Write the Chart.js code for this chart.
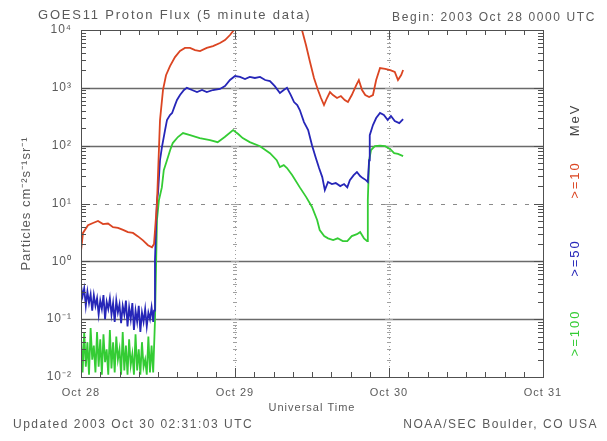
<!DOCTYPE html>
<html><head><meta charset="utf-8">
<script src="https://cdn.jsdelivr.net/npm/chart.js@4/dist/chart.umd.min.js"></script>
<style>html,body{margin:0;padding:0;background:#fff;}</style>
</head><body>
<canvas id="c" width="607" height="441"></canvas>
<script>
// ---- text ----
const titleText = 'GOES11 Proton Flux (5 minute data)';
const beginText = 'Begin: 2003 Oct 28 0000 UTC';
const updatedText = 'Updated 2003 Oct 30 02:31:03 UTC';
const creditText = 'NOAA/SEC Boulder, CO USA';
const xTitle = 'Universal Time';
const yTitle = 'Particles cm⁻²s⁻¹sr⁻¹';
const xTickValues = [0,24,48,72];
const xTickLabels = ['Oct 28','Oct 29','Oct 30','Oct 31'];
const yDecades = [0.01,0.1,1,10,100,1000,10000];
const yTickLabels = ['10⁻²','10⁻¹','10⁰','10¹','10²','10³','10⁴'];
const unitLabel = 'MeV';
const seriesNames = ['>=10','>=50','>=100'];
const seriesColors = ['#db4522','#2626b8','#34cc34'];

// ---- data (hours since 2003 Oct 28 00:00 UTC, flux) ----
const p10Times = [0,0.31,1.09,1.87,2.65,3.43,4.21,4.99,5.77,6.55,7.32,8.1,8.88,9.66,10.44,11.06,11.38,11.84,12.31,12.78,13.25,13.87,14.65,15.43,16.2,16.99,17.77,18.55,19.6,20.57,21.66,22.44,23.22,23.84,25,28,30,33,34.44,35.06,35.69,36.31,36.93,37.4,37.87,38.34,38.8,39.27,39.9,40.5,41.1,41.6,42.2,42.9,43.3,43.8,44.3,44.9,45.5,46.0,46.6,47.4,48.2,48.9,49.4,49.9,50.2];
const p10Flux  = [1.5,3.1,4.2,4.6,5.0,4.4,4.5,3.9,3.8,3.5,3.2,3.1,2.7,2.3,1.9,1.75,2.0,10,275,920,1650,2380,3400,4330,4900,4900,4500,4330,4900,5280,5960,6700,8190,10000,15000,25000,29500,20000,10000,5500,2790,1480,917,667,504,667,845,750,667,722,616,568,750,1117,1365,917,750,693,750,1365,2200,2120,2030,1880,1365,1660,2030];

const p50Times = [0,0.25,0.5,0.75,1,1.25,1.5,1.75,2,2.25,2.5,2.75,3,3.25,3.5,3.75,4,4.25,4.5,4.75,5,5.25,5.5,5.75,6,6.25,6.5,6.75,7,7.25,7.5,7.75,8,8.25,8.5,8.75,9,9.25,9.5,9.75,10,10.25,10.5,10.75,11,11.25,11.38,11.53,11.84,12.0,12.31,12.62,13.1,13.4,13.87,14.2,14.65,14.96,15.43,16.05,16.5,17.3,18.08,18.86,19.6,20.57,21.66,22.44,23.22,24.0,24.78,25.56,26.3,27.1,27.9,28.7,29.45,30.2,31.0,31.6,32.1,32.7,33.2,33.7,34.1,34.75,35.4,36.0,36.6,37.1,37.6,38.0,38.5,39.1,39.7,40.4,41.0,41.5,41.9,42.5,43.0,43.5,43.9,44.4,44.7,44.9,45.0,45.5,46.0,46.6,47.2,47.8,48.3,48.9,49.6,50.2];
const p50Flux  = [0.38,0.25,0.34,0.17,0.3,0.19,0.27,0.14,0.26,0.17,0.23,0.12,0.21,0.15,0.26,0.1,0.2,0.15,0.23,0.12,0.19,0.09,0.21,0.13,0.18,0.085,0.17,0.12,0.21,0.075,0.16,0.1,0.19,0.065,0.14,0.09,0.17,0.06,0.13,0.09,0.15,0.075,0.13,0.1,0.16,0.09,0.14,1.05,11.5,15,56,95,186,277,339,367,503,616,750,917,1000,917,845,917,845,917,955,1070,1365,1600,1540,1420,1540,1480,1540,1365,1310,1070,813,917,1000,750,568,504,413,256,186,102,61,41,28.6,17,23.5,21.7,22.6,20,21.7,19,25.4,31,35,29.8,27.5,25.4,23.5,56,152,227,300,367,339,277,325,267,245,288];

const p100Times = [0,0.25,0.5,0.75,1,1.25,1.5,1.75,2,2.25,2.5,2.75,3,3.25,3.5,3.75,4,4.25,4.5,4.75,5,5.25,5.5,5.75,6,6.25,6.5,6.75,7,7.25,7.5,7.75,8,8.25,8.5,8.75,9,9.25,9.5,9.75,10,10.25,10.5,10.75,11,11.25,11.53,11.84,12.15,12.6,12.9,13.4,13.9,14.3,15.1,15.9,17.0,18.5,20.1,21.3,22.4,23.7,24.5,25.2,26.3,27.9,29.45,30.5,31.0,31.6,32.1,32.9,34.1,35.1,36.0,36.8,37.2,37.9,38.5,39.3,40.0,40.8,41.5,42.2,43.0,43.5,44.1,44.6,44.7,44.9,45.2,45.8,46.6,47.4,48.2,48.8,49.4,50.2];
const p100Flux  = [0.05,0.012,0.06,0.015,0.04,0.011,0.07,0.02,0.035,0.012,0.06,0.015,0.045,0.011,0.055,0.018,0.03,0.011,0.065,0.014,0.04,0.012,0.05,0.02,0.03,0.011,0.06,0.013,0.035,0.011,0.045,0.016,0.025,0.011,0.055,0.013,0.03,0.011,0.04,0.015,0.02,0.011,0.05,0.012,0.035,0.012,0.096,5.2,11.5,19,37.8,56,84,111,141,165,152,135,125,115,141,186,159,135,115,98,74,56,42.7,46,41,31,19,12.9,8.7,5.2,3.47,2.73,2.5,2.33,2.5,2.24,2.24,2.73,2.95,3.2,2.5,2.24,11.5,56,84,98,100,98,87,74,72,66];

// threshold reference lines
const solidLines = [1000,100,1,0.1];
const dashedLines = [10];
const dottedDays = [24,48];

const pts = (t,v)=>t.map((x,i)=>({x:x,y:v[i]}));
const FONT = 'Liberation Sans';
const TXT = '#5a5a5a';

function minorValues(){
  const out=[];
  for(let d=-2; d<4; d++){ for(let m=1;m<10;m++){ out.push({v:m*Math.pow(10,d), major:m===1}); } }
  out.push({v:10000,major:true});
  return out;
}

const spacing = {
  id:'spacing',
  beforeUpdate(chart){ chart.ctx.letterSpacing='1px'; },
  beforeDraw(chart){ chart.ctx.letterSpacing='1px'; }
};

const decor = {
  id:'decor',
  beforeDatasetsDraw(chart){
    const {ctx, chartArea:a, scales:{x,y}} = chart;
    ctx.save();
    ctx.strokeStyle='#6a6a6a'; ctx.lineWidth=1.6;
    solidLines.forEach(v=>{const py=Math.round(y.getPixelForValue(v))+0.5; ctx.beginPath(); ctx.moveTo(a.left,py); ctx.lineTo(a.right,py); ctx.stroke();});
    ctx.lineWidth=1; ctx.strokeStyle='#8a8a8a'; ctx.setLineDash([4,8]);
    dashedLines.forEach(v=>{const py=Math.round(y.getPixelForValue(v))+0.5; ctx.beginPath(); ctx.moveTo(a.left,py); ctx.lineTo(a.right,py); ctx.stroke();});
    ctx.setLineDash([1,3]); ctx.strokeStyle='#a0a0a0';
    dottedDays.forEach(d=>{const px=Math.round(x.getPixelForValue(d))+0.5; ctx.beginPath(); ctx.moveTo(px,a.top); ctx.lineTo(px,a.bottom); ctx.stroke();});
    ctx.setLineDash([]);
    dottedDays.forEach(d=>{const px=Math.round(x.getPixelForValue(d));
      minorValues().forEach(m=>{const py=Math.round(y.getPixelForValue(m.v))+0.5; const w=m.major?4:2; ctx.beginPath(); ctx.moveTo(px-w,py); ctx.lineTo(px+w,py); ctx.stroke();});
    });
    ctx.restore();
  },
  afterDatasetsDraw(chart){
    const {ctx, chartArea:a, scales:{x,y}} = chart;
    ctx.save();
    ctx.strokeStyle='#505050'; ctx.lineWidth=1;
    ctx.strokeRect(Math.round(a.left)+0.5, Math.round(a.top)+0.5, Math.round(a.right-a.left), Math.round(a.bottom-a.top));
    minorValues().forEach(m=>{const py=Math.round(y.getPixelForValue(m.v))+0.5; const L=m.major?9:5;
      ctx.beginPath(); ctx.moveTo(a.left,py); ctx.lineTo(a.left+L,py); ctx.moveTo(a.right,py); ctx.lineTo(a.right-L,py); ctx.stroke();});
    for(let h=0; h<=72; h+=3){ const px=Math.round(x.getPixelForValue(h))+0.5; const L=(h%24===0)?9:5;
      ctx.beginPath(); ctx.moveTo(px,a.bottom); ctx.lineTo(px,a.bottom-L); ctx.moveTo(px,a.top); ctx.lineTo(px,a.top+L); ctx.stroke(); }
    ctx.fillStyle=TXT; ctx.textBaseline='middle';
    ctx.font='13px "'+FONT+'"'; ctx.letterSpacing='1.8px'; ctx.textAlign='left'; ctx.fillText(titleText,38,15);
    ctx.font='12px "'+FONT+'"'; ctx.letterSpacing='1.6px'; ctx.textAlign='right'; ctx.fillText(beginText,596,18);
    ctx.letterSpacing='1.5px';
    ctx.textAlign='left'; ctx.fillText(updatedText,13,425);
    ctx.textAlign='right'; ctx.fillText(creditText,598,425);
    const labs=[[unitLabel,'#444444',120],[seriesNames[0],seriesColors[0],180],[seriesNames[1],seriesColors[1],258],[seriesNames[2],seriesColors[2],333]];
    labs.forEach(([t,c,cy])=>{ctx.save(); ctx.translate(575,cy); ctx.rotate(-Math.PI/2); ctx.fillStyle=c; ctx.textAlign='center'; ctx.font='13px "'+FONT+'"'; ctx.letterSpacing='2px'; ctx.fillText(t,0,0); ctx.restore();});
    ctx.restore();
  }
};

new Chart(document.getElementById('c'),{
  type:'line',
  data:{datasets:[
    {label:seriesNames[0], data:pts(p10Times,p10Flux), borderColor:seriesColors[0]},
    {label:seriesNames[1], data:pts(p50Times,p50Flux), borderColor:seriesColors[1]},
    {label:seriesNames[2], data:pts(p100Times,p100Flux), borderColor:seriesColors[2]}
  ]},
  options:{
    responsive:false, animation:false, devicePixelRatio:1,
    parsing:false,
    elements:{point:{radius:0}, line:{borderWidth:1.8, tension:0}},
    layout:{padding:{left:0,right:64,top:30,bottom:0}},
    plugins:{legend:{display:false}, tooltip:{enabled:false}},
    scales:{
      x:{type:'linear', min:0, max:72,
        afterBuildTicks:s=>{s.ticks=xTickValues.map(v=>({value:v}));},
        afterFit:s=>{s.height=64;},
        grid:{display:false, drawTicks:false}, border:{display:false},
        ticks:{autoSkip:false, maxRotation:0, padding:9, color:TXT, font:{family:FONT,size:11},
          callback:(v)=>xTickLabels[xTickValues.indexOf(v)]},
        title:{display:true, text:xTitle, color:TXT, font:{family:FONT,size:11}, padding:{top:0,bottom:26}}
      },
      y:{type:'logarithmic', min:0.01, max:10000,
        afterBuildTicks:s=>{s.ticks=yDecades.map(v=>({value:v}));},
        afterFit:s=>{s.width=81;},
        grid:{display:false, drawTicks:false}, border:{display:false},
        ticks:{autoSkip:false, padding:9, color:TXT, font:{family:FONT,size:12},
          callback:(v)=>yTickLabels[yDecades.findIndex(d=>Math.abs(Math.log10(d)-Math.log10(v))<1e-6)]},
        title:{display:true, text:yTitle, color:TXT, font:{family:FONT,size:13}, padding:{top:19,bottom:0}}
      }
    }
  },
  plugins:[spacing, decor]
});
</script>
</body></html>
